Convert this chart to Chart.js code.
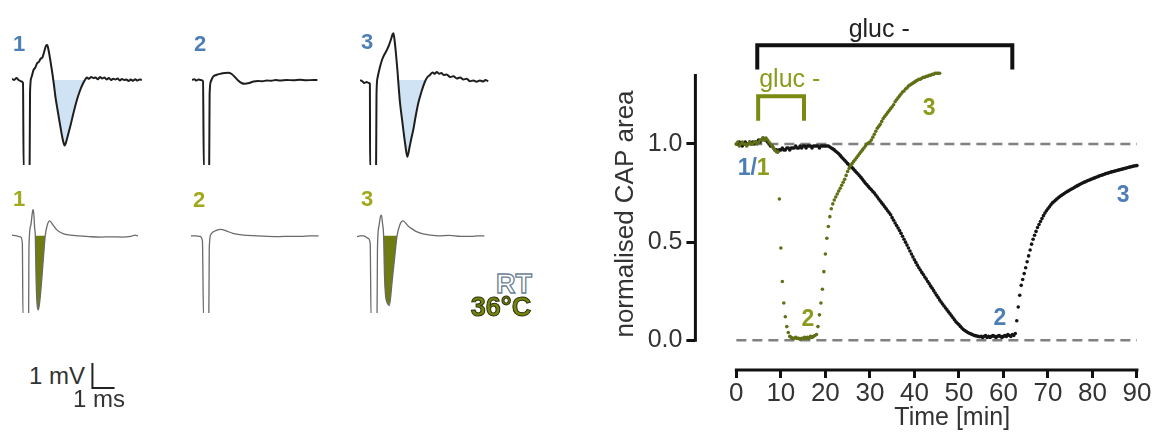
<!DOCTYPE html>
<html><head><meta charset="utf-8">
<script src="https://cdn.jsdelivr.net/npm/chart.js@4.4.0/dist/chart.umd.min.js"></script>
<style>
html,body{margin:0;padding:0;background:#fff;}
body{width:1168px;height:434px;position:relative;overflow:hidden;font-family:"Liberation Sans",Arial,sans-serif;}
canvas{position:absolute;}
.lab{position:absolute;transform:translate(-50%,-50%);white-space:nowrap;line-height:1;}
.num{font-weight:bold;font-size:22px;}
.blue{color:#4d7fb6;}
.yel{color:#a2a81c;}
</style></head><body>

<canvas id="tr1" width="132" height="140" style="left:12px;top:25px"></canvas>
<canvas id="tr2" width="132" height="140" style="left:192px;top:25px"></canvas>
<canvas id="tr3" width="132" height="140" style="left:360px;top:25px"></canvas>
<canvas id="tb1" width="132" height="112" style="left:12px;top:201px"></canvas>
<canvas id="tb2" width="132" height="112" style="left:191px;top:201px"></canvas>
<canvas id="tb3" width="132" height="112" style="left:357px;top:201px"></canvas>
<canvas id="bar" width="31" height="35" style="left:88px;top:358px"></canvas>
<canvas id="main" width="578" height="434" style="left:590px;top:0px"></canvas>

<div class="lab num blue" style="left:19px;top:44px">1</div>
<div class="lab num blue" style="left:200px;top:44px">2</div>
<div class="lab num blue" style="left:367px;top:42px">3</div>
<div class="lab num yel" style="left:19px;top:199px">1</div>
<div class="lab num yel" style="left:199px;top:200px">2</div>
<div class="lab num yel" style="left:367px;top:199px">3</div>

<div class="lab" style="left:514px;top:284px;font-weight:bold;font-size:27px;color:#ffffff;-webkit-text-stroke:1.3px #6b7f95;">RT</div>
<div class="lab" style="left:501px;top:307px;font-weight:bold;font-size:27px;color:#76850f;-webkit-text-stroke:1px #2a2f08;">36°C</div>

<div class="lab" style="left:57px;top:376px;font-size:24px;color:#333;">1 mV</div>
<div class="lab" style="left:99px;top:399px;font-size:24px;color:#333;">1 ms</div>

<script>
// ---------------- DATA ----------------
// Example CAP recordings [time ms, voltage mV]
const traceRT1 = [[0,0.05],[0.1,0.0],[0.2,0.08],[0.3,0.0],[0.4,-0.05],[0.5,-0.12],[0.53,-3.6],[0.8,-3.6],[0.82,-0.5],[0.88,0.1],[0.98,0.4],[1.06,0.5],[1.14,0.67],[1.22,0.72],[1.3,0.85],[1.38,0.9],[1.47,1.15],[1.55,1.38],[1.6,1.4],[1.66,1.2],[1.74,0.8],[1.82,0.35],[1.9,-0.15],[1.97,-0.65],[2.08,-1.25],[2.2,-1.87],[2.3,-2.35],[2.39,-2.62],[2.47,-2.45],[2.56,-2.15],[2.65,-1.85],[2.8,-1.3],[2.95,-0.8],[3.1,-0.4],[3.25,-0.1],[3.33,0.02],[3.4,0.1],[3.5,0.05],[3.6,0.12],[3.7,0.08],[3.8,0.1],[3.9,0.03],[4.0,0.12],[4.1,0.06],[4.2,0.1],[4.3,0.02],[4.4,0.08],[4.5,0.0],[4.6,0.05],[4.7,0.02],[4.8,0.06],[4.9,-0.02],[5.0,0.04],[5.1,0.0],[5.2,0.02],[5.3,-0.04],[5.4,0.02],[5.5,-0.03],[5.6,0.03],[5.7,-0.02],[5.8,0.02],[5.9,0.0]];
const traceRT2 = [[0,0],[0.1,0.03],[0.2,-0.02],[0.3,0.02],[0.4,0.0],[0.5,-0.05],[0.54,-3.6],[0.78,-3.6],[0.8,-0.6],[0.86,-0.05],[0.95,0.12],[1.1,0.2],[1.3,0.25],[1.5,0.28],[1.65,0.29],[1.8,0.24],[1.95,0.12],[2.1,-0.02],[2.25,-0.12],[2.4,-0.15],[2.6,-0.12],[2.8,-0.06],[3.0,-0.04],[3.2,-0.05],[3.4,-0.02],[3.6,-0.03],[3.8,0.0],[4.0,-0.02],[4.3,0.0],[4.6,-0.01],[4.9,0.01],[5.2,-0.01],[5.5,0.0],[5.7,0.0]];
const traceRT3 = [[0,0],[0.1,-0.05],[0.2,-0.12],[0.3,-0.08],[0.4,-0.12],[0.45,-0.15],[0.46,-3.6],[0.73,-3.6],[0.75,-0.6],[0.8,0.1],[0.91,0.53],[1.02,0.85],[1.14,1.07],[1.22,1.2],[1.29,1.33],[1.4,1.6],[1.48,1.82],[1.52,1.87],[1.57,1.6],[1.63,1.1],[1.7,0.4],[1.76,-0.3],[1.82,-0.92],[1.9,-1.5],[1.97,-2.0],[2.06,-2.6],[2.15,-3.07],[2.25,-2.7],[2.33,-2.35],[2.42,-2.0],[2.53,-1.45],[2.65,-0.92],[2.8,-0.45],[2.95,-0.07],[3.05,0.1],[3.18,0.2],[3.3,0.3],[3.4,0.25],[3.49,0.32],[3.6,0.25],[3.7,0.28],[3.8,0.2],[3.94,0.22],[4.1,0.12],[4.25,0.15],[4.4,0.06],[4.55,0.1],[4.7,0.02],[4.85,0.05],[5.0,-0.05],[5.15,-0.02],[5.3,-0.07],[5.45,-0.02],[5.6,-0.06],[5.7,0.0],[5.83,-0.05]];
const traceW1 = [[0,0.03],[0.2,0],[0.4,-0.05],[0.47,-0.3],[0.5,-3.3],[0.755,-3.3],[0.77,-0.5],[0.85,0.4],[0.92,0.9],[0.95,1.05],[0.99,0.9],[1.03,0.3],[1.06,0],[1.09,-1.5],[1.13,-2.6],[1.2,-2.97],[1.3,-2.3],[1.4,-1.2],[1.51,0],[1.6,0.42],[1.71,0.6],[1.85,0.45],[2.05,0.23],[2.3,0.1],[2.5,0.05],[3.0,0.0],[3.5,-0.03],[4.0,-0.05],[4.5,-0.04],[5.0,-0.05],[5.4,-0.02],[5.6,0.03],[5.72,0.0]];
const traceW2 = [[0,0],[0.2,0.0],[0.4,-0.02],[0.52,-0.2],[0.57,-3.3],[0.81,-3.3],[0.83,-0.5],[0.9,0.05],[1.0,0.15],[1.15,0.22],[1.35,0.26],[1.6,0.2],[1.9,0.1],[2.3,0.04],[3.0,0.0],[3.5,-0.02],[4.0,-0.03],[4.5,-0.02],[5.0,-0.02],[5.4,0.0],[5.8,0.0]];
const traceW3 = [[0,-0.03],[0.15,0],[0.3,0.0],[0.5,-0.1],[0.6,-0.3],[0.64,-3.3],[0.91,-3.3],[0.93,-0.5],[1.0,0.4],[1.06,0.75],[1.11,0.83],[1.16,0.5],[1.21,0],[1.25,-1.6],[1.3,-2.4],[1.38,-2.7],[1.47,-2.8],[1.6,-1.8],[1.72,-0.8],[1.82,0],[1.95,0.45],[2.09,0.6],[2.3,0.42],[2.5,0.28],[2.73,0.16],[3.0,0.08],[3.33,0.03],[3.7,0.0],[4.2,0.02],[4.7,-0.02],[5.2,-0.02],[5.5,0.0],[5.79,0.0]];
// CAP area integration windows [ms]
const areaRT1 = [1.86, 3.33];
const areaRT3 = [1.72, 2.95];
const areaW1 = [1.06, 1.51];
const areaW3 = [1.21, 1.82];
// scale bar
const scaleBarMs = 1;
const scaleBarMv = 1;

// Normalised CAP area time courses, sampled every 20 s
const sampleMinutes = 1/3;
const capRT = [
 1.00,1.00,1.01,1.00,0.99,1.00,1.01,1.00,1.00,1.01,1.00,1.01,1.00,1.01,1.01,   // 0 min
 1.02,1.01,1.02,1.03,1.02,1.02,1.01,1.00,0.99,0.99,0.98,0.97,0.97,0.96,0.97,   // 5
 0.97,0.98,0.97,0.97,0.98,0.98,0.97,0.98,0.98,0.98,0.99,0.98,0.98,0.99,0.98,   // 10
 0.99,0.99,0.98,0.99,0.99,0.99,0.98,0.99,0.99,0.99,0.99,0.98,0.99,0.99,0.99,   // 15
 0.99,0.99,0.99,0.985,0.98,0.975,0.97,0.963,0.957,0.95,0.942,0.933,0.925,0.917,0.908, // 20
 0.90,0.893,0.887,0.88,0.872,0.863,0.855,0.847,0.838,0.83,0.82,0.81,0.80,0.792,0.783, // 25
 0.775,0.767,0.758,0.75,0.74,0.73,0.72,0.71,0.70,0.69,0.68,0.67,0.66,0.65,0.64,     // 30
 0.625,0.612,0.598,0.585,0.572,0.559,0.545,0.53,0.515,0.50,0.485,0.47,0.455,0.44,0.425, // 35
 0.41,0.397,0.383,0.37,0.358,0.346,0.335,0.323,0.312,0.30,0.288,0.276,0.265,0.253,0.241, // 40
 0.23,0.218,0.206,0.195,0.185,0.175,0.165,0.155,0.145,0.135,0.125,0.115,0.105,0.095,0.087, // 45
 0.08,0.071,0.063,0.055,0.05,0.045,0.04,0.036,0.033,0.03,0.026,0.024,0.022,0.02,0.018, // 50
 0.02,0.015,0.02,0.025,0.015,0.02,0.015,0.02,0.025,0.02,0.015,0.02,0.025,0.02,0.015, // 55
 0.02,0.025,0.02,0.03,0.025,0.02,0.03,0.025,0.035,0.10,0.17,0.23,0.28,0.31,0.34,    // 60
 0.37,0.40,0.43,0.46,0.49,0.515,0.535,0.555,0.575,0.59,0.605,0.62,0.635,0.648,0.66, // 65
 0.67,0.68,0.69,0.70,0.706,0.713,0.72,0.726,0.732,0.738,0.743,0.748,0.753,0.758,0.762, // 70
 0.767,0.771,0.775,0.78,0.784,0.788,0.792,0.796,0.80,0.804,0.807,0.81,0.814,0.817,0.82, // 75
 0.823,0.826,0.829,0.832,0.835,0.838,0.841,0.843,0.846,0.849,0.851,0.853,0.856,0.858,0.86, // 80
 0.862,0.864,0.866,0.868,0.87,0.872,0.874,0.876,0.878,0.88,0.882,0.884,0.886,0.888,0.889, // 85
 0.89 // 90
];
const capWarm = [
 1.00,1.01,0.99,1.00,1.01,1.00,1.00,0.99,1.00,1.01,1.00,1.00,1.01,1.01,1.00,   // 0 min
 1.01,1.02,1.02,1.03,1.02,1.03,1.02,1.01,1.00,0.99,0.98,0.97,0.96,0.96,0.72,   // 5
 0.47,0.30,0.19,0.12,0.07,0.04,0.02,0.015,0.01,0.01,0.015,0.01,0.01,0.005,0.01, // 10
 0.01,0.015,0.01,0.015,0.01,0.02,0.015,0.02,0.025,0.03,0.07,0.13,0.19,0.26,0.35, // 15
 0.44,0.52,0.58,0.63,0.67,0.695,0.715,0.73,0.745,0.76,0.775,0.79,0.805,0.82,0.84, // 20
 0.86,0.875,0.89,0.90,0.91,0.92,0.93,0.94,0.95,0.96,0.97,0.98,0.99,1.00,1.005,   // 25
 1.01,1.02,1.035,1.05,1.065,1.08,1.09,1.10,1.115,1.13,1.14,1.15,1.16,1.17,1.18,  // 30
 1.19,1.20,1.215,1.225,1.235,1.245,1.255,1.265,1.27,1.28,1.285,1.295,1.30,1.305,1.31, // 35
 1.315,1.32,1.325,1.33,1.33,1.335,1.34,1.34,1.345,1.345,1.35,1.35,1.355,1.355,1.36, // 40
 1.36,1.36,1.36 // 45
];
const timeTicks = [0,10,20,30,40,50,60,70,80,90];
const capTicks = [0, 0.5, 1.0];
const referenceLevels = [0, 1];
const referenceSpan = [0, 90];
// glucose-free perfusion periods [min]
const glucoseFreeRT = [4.7, 62];
const glucoseFreeWarm = [4.9, 15.2];

// ---------------- DRAWING ----------------
const FONT = '"Liberation Sans", Arial, sans-serif';
Chart.defaults.font.family = FONT;
const BLUE = '#4d7fb6', OLIVE_TXT = '#8d9b1c', OLIVE = '#7a8a12', OLIVE_PT = '#5f7016';

const baseOpts = (xr, yr) => ({
  responsive:false, animation:false, devicePixelRatio:1, events:[],
  layout:{padding:0},
  plugins:{legend:{display:false}, tooltip:{enabled:false}},
  scales:{x:{type:'linear', min:xr[0], max:xr[1], display:false},
          y:{type:'linear', min:yr[0], max:yr[1], display:false}}
});

function traceChart(id, trace, win, yr, color, width, fillColor) {
  const pts = trace.map(([t, v]) => ({x:t, y:v}));
  const ds = [{data:pts, borderColor:color, borderWidth:width, pointRadius:0, fill:false,
               cubicInterpolationMode:'monotone', borderJoinStyle:'round'}];
  if (win) {
    ds.push({data:pts.filter(p => p.x >= win[0] && p.x <= win[1]), borderWidth:0, pointRadius:0,
             backgroundColor:fillColor, fill:{value:0}, cubicInterpolationMode:'monotone'});
  }
  new Chart(document.getElementById(id), {type:'line', data:{datasets:ds}, options:baseOpts([0,6], yr)});
}
const topRange = [-3.4, 2.2], botRange = [-3.1, 1.4];
traceChart('tr1', traceRT1, areaRT1, topRange, '#1e1e1e', 2, '#cfe3f4');
traceChart('tr2', traceRT2, null, topRange, '#1e1e1e', 2);
traceChart('tr3', traceRT3, areaRT3, topRange, '#1e1e1e', 2, '#cfe3f4');
traceChart('tb1', traceW1, areaW1, botRange, '#6a6a6a', 1.3, '#6f7d10');
traceChart('tb2', traceW2, null, botRange, '#6a6a6a', 1.3);
traceChart('tb3', traceW3, areaW3, botRange, '#6a6a6a', 1.3, '#6f7d10');

new Chart(document.getElementById('bar'), {type:'line',
  data:{datasets:[{data:[{x:0,y:scaleBarMv},{x:0,y:0},{x:scaleBarMs,y:0}], borderColor:'#222', borderWidth:2, pointRadius:0, tension:0, clip:false}]},
  options:baseOpts([-0.2,1.2],[-0.2,1.2])});

// main time-course chart
const toPoints = vals => vals.map((v, i) => ({x: i * sampleMinutes, y: v}));
const yAxisTop = 1.357;

const decorPlugin = {
  id:'decor',
  afterDraw(chart) {
    const {ctx, chartArea, scales:{x, y}} = chart;
    ctx.save();
    // axis lines (offset style)
    ctx.strokeStyle = '#111'; ctx.lineWidth = 3; ctx.lineCap = 'butt';
    ctx.beginPath();
    ctx.moveTo(chartArea.left, y.getPixelForValue(0) + 1.5);
    ctx.lineTo(chartArea.left, y.getPixelForValue(yAxisTop));
    ctx.stroke();
    ctx.beginPath();
    ctx.moveTo(x.getPixelForValue(timeTicks[0]) - 1.5, chartArea.bottom);
    ctx.lineTo(x.getPixelForValue(timeTicks[timeTicks.length-1]) + 1.5, chartArea.bottom);
    ctx.stroke();
    // axis titles
    ctx.fillStyle = '#333';
    ctx.font = '25px ' + FONT;
    ctx.textAlign = 'center'; ctx.textBaseline = 'middle';
    ctx.fillText('Time [min]', x.getPixelForValue(48.5), 418);
    ctx.save();
    ctx.translate(36, 214); ctx.rotate(-Math.PI/2);
    ctx.font = '26px ' + FONT;
    ctx.fillText('normalised CAP area', 0, 0);
    ctx.restore();
    // glucose-free brackets
    const bracket = (span, top, bottom, color) => {
      ctx.strokeStyle = color; ctx.lineWidth = 4; ctx.lineJoin = 'miter';
      ctx.beginPath();
      ctx.moveTo(x.getPixelForValue(span[0]), y.getPixelForValue(bottom));
      ctx.lineTo(x.getPixelForValue(span[0]), y.getPixelForValue(top));
      ctx.lineTo(x.getPixelForValue(span[1]), y.getPixelForValue(top));
      ctx.lineTo(x.getPixelForValue(span[1]), y.getPixelForValue(bottom));
      ctx.stroke();
    };
    bracket(glucoseFreeRT, 1.503, 1.38, '#111');
    bracket(glucoseFreeWarm, 1.243, 1.118, OLIVE);
    ctx.font = '25px ' + FONT;
    ctx.fillStyle = '#222';
    ctx.fillText('gluc -', x.getPixelForValue(32.1), y.getPixelForValue(1.582));
    ctx.fillStyle = OLIVE_TXT;
    ctx.fillText('gluc -', x.getPixelForValue(12.0), y.getPixelForValue(1.325));
    // state labels
    ctx.font = 'bold 23px ' + FONT;
    const lab = (txt, t, v, c) => { ctx.fillStyle = c; ctx.fillText(txt, x.getPixelForValue(t), y.getPixelForValue(v)); };
    lab('2', 16.1, 0.106, OLIVE_TXT);
    lab('3', 43.3, 1.18, OLIVE_TXT);
    lab('2', 59.2, 0.113, BLUE);
    lab('3', 86.9, 0.738, BLUE);
    ctx.textAlign = 'left';
    const lx = x.getPixelForValue(0.3), ly = y.getPixelForValue(0.874);
    ctx.fillStyle = BLUE; ctx.fillText('1/', lx, ly);
    const w = ctx.measureText('1/').width;
    ctx.fillStyle = OLIVE_TXT; ctx.fillText('1', lx + w, ly);
    ctx.restore();
  }
};

const refSets = referenceLevels.map(level => ({
  type:'line', data: referenceSpan.map(t => ({x:t, y:level})), showLine:true,
  borderColor:'#808080', borderWidth:2.5, borderDash:[10,6], pointRadius:0, fill:false
}));

const noEdgePadding = s => { s.paddingTop = 0; s.paddingBottom = 0; s.paddingLeft = 0; s.paddingRight = 0; };

new Chart(document.getElementById('main'), {
  type:'scatter',
  data:{datasets:[
    {label:'36°C', data:toPoints(capWarm), pointRadius:1.8, pointBorderWidth:0, pointBackgroundColor:OLIVE_PT, showLine:false},
    {label:'RT', data:toPoints(capRT), pointRadius:1.8, pointBorderWidth:0, pointBackgroundColor:'#151515', showLine:false},
    ...refSets
  ]},
  options:{
    responsive:false, animation:false, devicePixelRatio:1, events:[],
    layout:{padding:0},
    plugins:{legend:{display:false}, tooltip:{enabled:false}},
    scales:{
      x:{type:'linear', min:-9.2, max:96.08,
         afterBuildTicks:s => { s.ticks = timeTicks.map(v => ({value:v})); },
         afterFit:s => { s.height = 64; noEdgePadding(s); },
         grid:{display:true, drawOnChartArea:false, drawTicks:true, tickLength:8, color:'#111', lineWidth:3},
         border:{display:false},
         ticks:{font:{size:26, family:FONT}, color:'#333', padding:0, maxRotation:0, autoSkip:false, callback:v => String(v)}},
      y:{type:'linear', min:-0.151, max:1.713,
         afterBuildTicks:s => { s.ticks = capTicks.map(v => ({value:v})); },
         afterFit:s => { s.width = 105.4; noEdgePadding(s); },
         grid:{display:true, drawOnChartArea:false, drawTicks:true, tickLength:9, color:'#111', lineWidth:3},
         border:{display:false},
         ticks:{font:{size:25, family:FONT}, color:'#333', padding:4, callback:v => v.toFixed(1)}}
    }
  },
  plugins:[decorPlugin]
});
</script>
</body></html>
